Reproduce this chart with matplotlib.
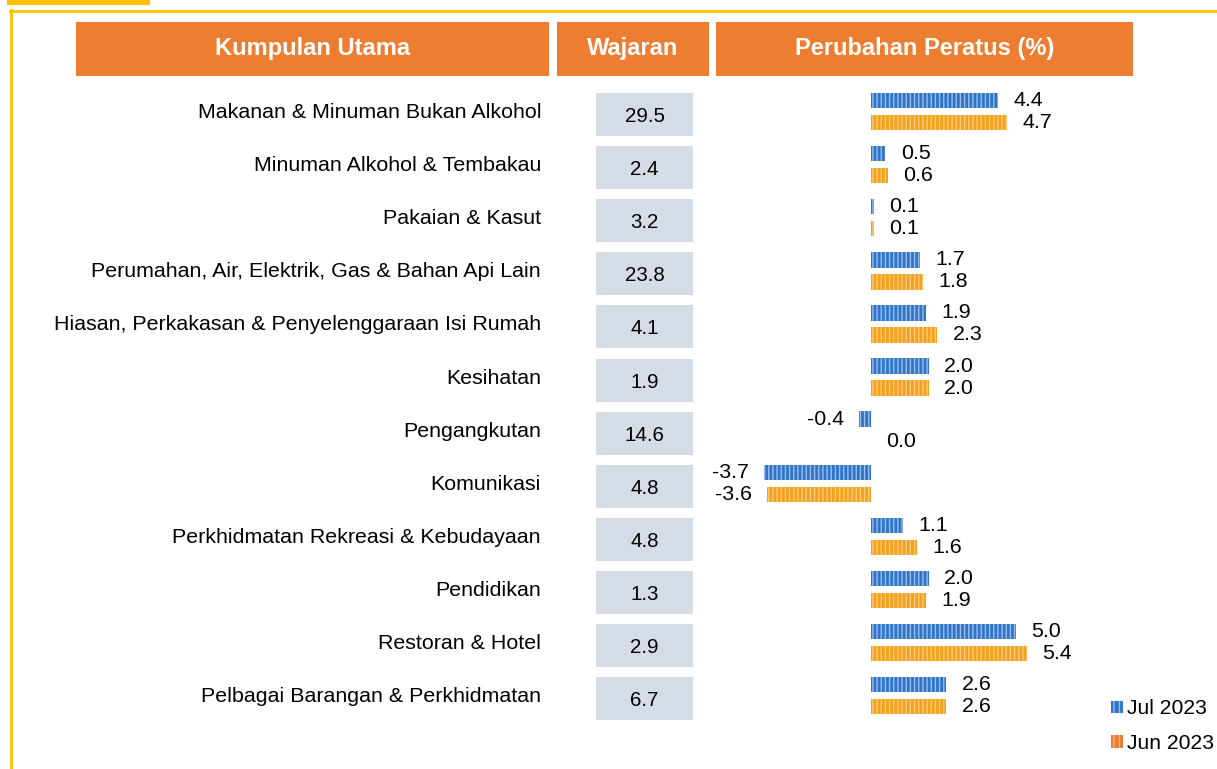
import matplotlib
matplotlib.use("Agg")
import matplotlib.pyplot as plt
from matplotlib.patches import Rectangle, Patch

plt.rcParams['font.family'] = ['Liberation Sans', 'DejaVu Sans']
plt.rcParams['hatch.linewidth'] = 1.0

# data
kumpulan = [
    "Makanan & Minuman Bukan Alkohol",
    "Minuman Alkohol & Tembakau",
    "Pakaian & Kasut",
    "Perumahan, Air, Elektrik, Gas & Bahan Api Lain",
    "Hiasan, Perkakasan & Penyelenggaraan Isi Rumah",
    "Kesihatan",
    "Pengangkutan",
    "Komunikasi",
    "Perkhidmatan Rekreasi & Kebudayaan",
    "Pendidikan",
    "Restoran & Hotel",
    "Pelbagai Barangan & Perkhidmatan",
]
wajaran = [29.5, 2.4, 3.2, 23.8, 4.1, 1.9, 14.6, 4.8, 4.8, 1.3, 2.9, 6.7]
jul_2023 = [4.4, 0.5, 0.1, 1.7, 1.9, 2.0, -0.4, -3.7, 1.1, 2.0, 5.0, 2.6]
jun_2023 = [4.7, 0.6, 0.1, 1.8, 2.3, 2.0, 0.0, -3.6, 1.6, 1.9, 5.4, 2.6]
siri = ["Jul 2023", "Jun 2023"]

W, H = 1217, 769
ORANGE = "#ED7D31"
YELLOW = "#FFC000"
BOX = "#D6DCE5"
BLUE, BLUE_L = "#2E75C9", "#9CBDE8"
ORG, ORG_L = "#F5A11C", "#F9CB7E"

fig = plt.figure(figsize=(W / 100, H / 100), dpi=100)

# background layer in pixel coords
bg = fig.add_axes([0, 0, 1, 1])
bg.set_xlim(0, W)
bg.set_ylim(H, 0)
bg.axis("off")

bg.add_patch(Rectangle((7, 0), 143, 5, color=YELLOW, lw=0))
bg.plot([10, W], [10.5, 10.5], color=YELLOW, lw=2)
bg.plot([10.5, 10.5], [10, H], color=YELLOW, lw=2)

headers = [("Kumpulan Utama", 76, 549), ("Wajaran", 557, 709), ("Perubahan Peratus (%)", 716, 1133)]
for txt, x0, x1 in headers:
    bg.add_patch(Rectangle((x0, 22), x1 - x0, 54, color=ORANGE, lw=0))
    bg.text((x0 + x1) / 2, 48.5, txt, color="white", fontsize=17, fontweight="bold",
            ha="center", va="center")

top, step = 85, 53.1
for i, (nama, w) in enumerate(zip(kumpulan, wajaran)):
    yc = top + step * (i + 0.5)
    bg.text(541, yc + 1, nama, fontsize=15.4, ha="right", va="center")
    bg.add_patch(Rectangle((596, yc - 18.5), 97, 43, color=BOX, lw=0))
    bg.text(644.5, yc + 5, f"{w:.1f}", fontsize=14.8, ha="center", va="center")

# bar chart
zero_px, px_unit = 871, 28.9
ax = fig.add_axes([716 / W, 1 - (top + 12 * step) / H, (1133 - 716) / W, 12 * step / H])
ax.set_xlim((716 - zero_px) / px_unit, (1133 - zero_px) / px_unit)
ax.set_ylim(11.5, -0.5)
ax.axis("off")
ax.patch.set_alpha(0)

y = range(len(kumpulan))
off, h = 0.207, 0.29
b1 = ax.barh([i - off for i in y], jul_2023, height=h, color=BLUE, edgecolor=BLUE_L,
             hatch="||||", lw=0)
b2 = ax.barh([i + off for i in y], jun_2023, height=h, color=ORG, edgecolor=ORG_L,
             hatch="||||", lw=0)
for bars, vals in ((b1, jul_2023), (b2, jun_2023)):
    ax.bar_label(bars, labels=[f"{v:.1f}" for v in vals], padding=11, fontsize=15.4)

handles = [Patch(facecolor=BLUE, edgecolor=BLUE_L, hatch="|||", lw=0),
           Patch(facecolor=ORANGE, edgecolor="#F4B183", hatch="|||", lw=0)]
fig.legend(handles, siri, loc="upper left", bbox_to_anchor=(1103 / W, 1 - 691 / H),
           frameon=False, fontsize=15.2, handlelength=0.55, handleheight=0.55,
           handletextpad=0.2, labelspacing=0.72, borderaxespad=0)

fig.savefig("out.png", dpi=100)
